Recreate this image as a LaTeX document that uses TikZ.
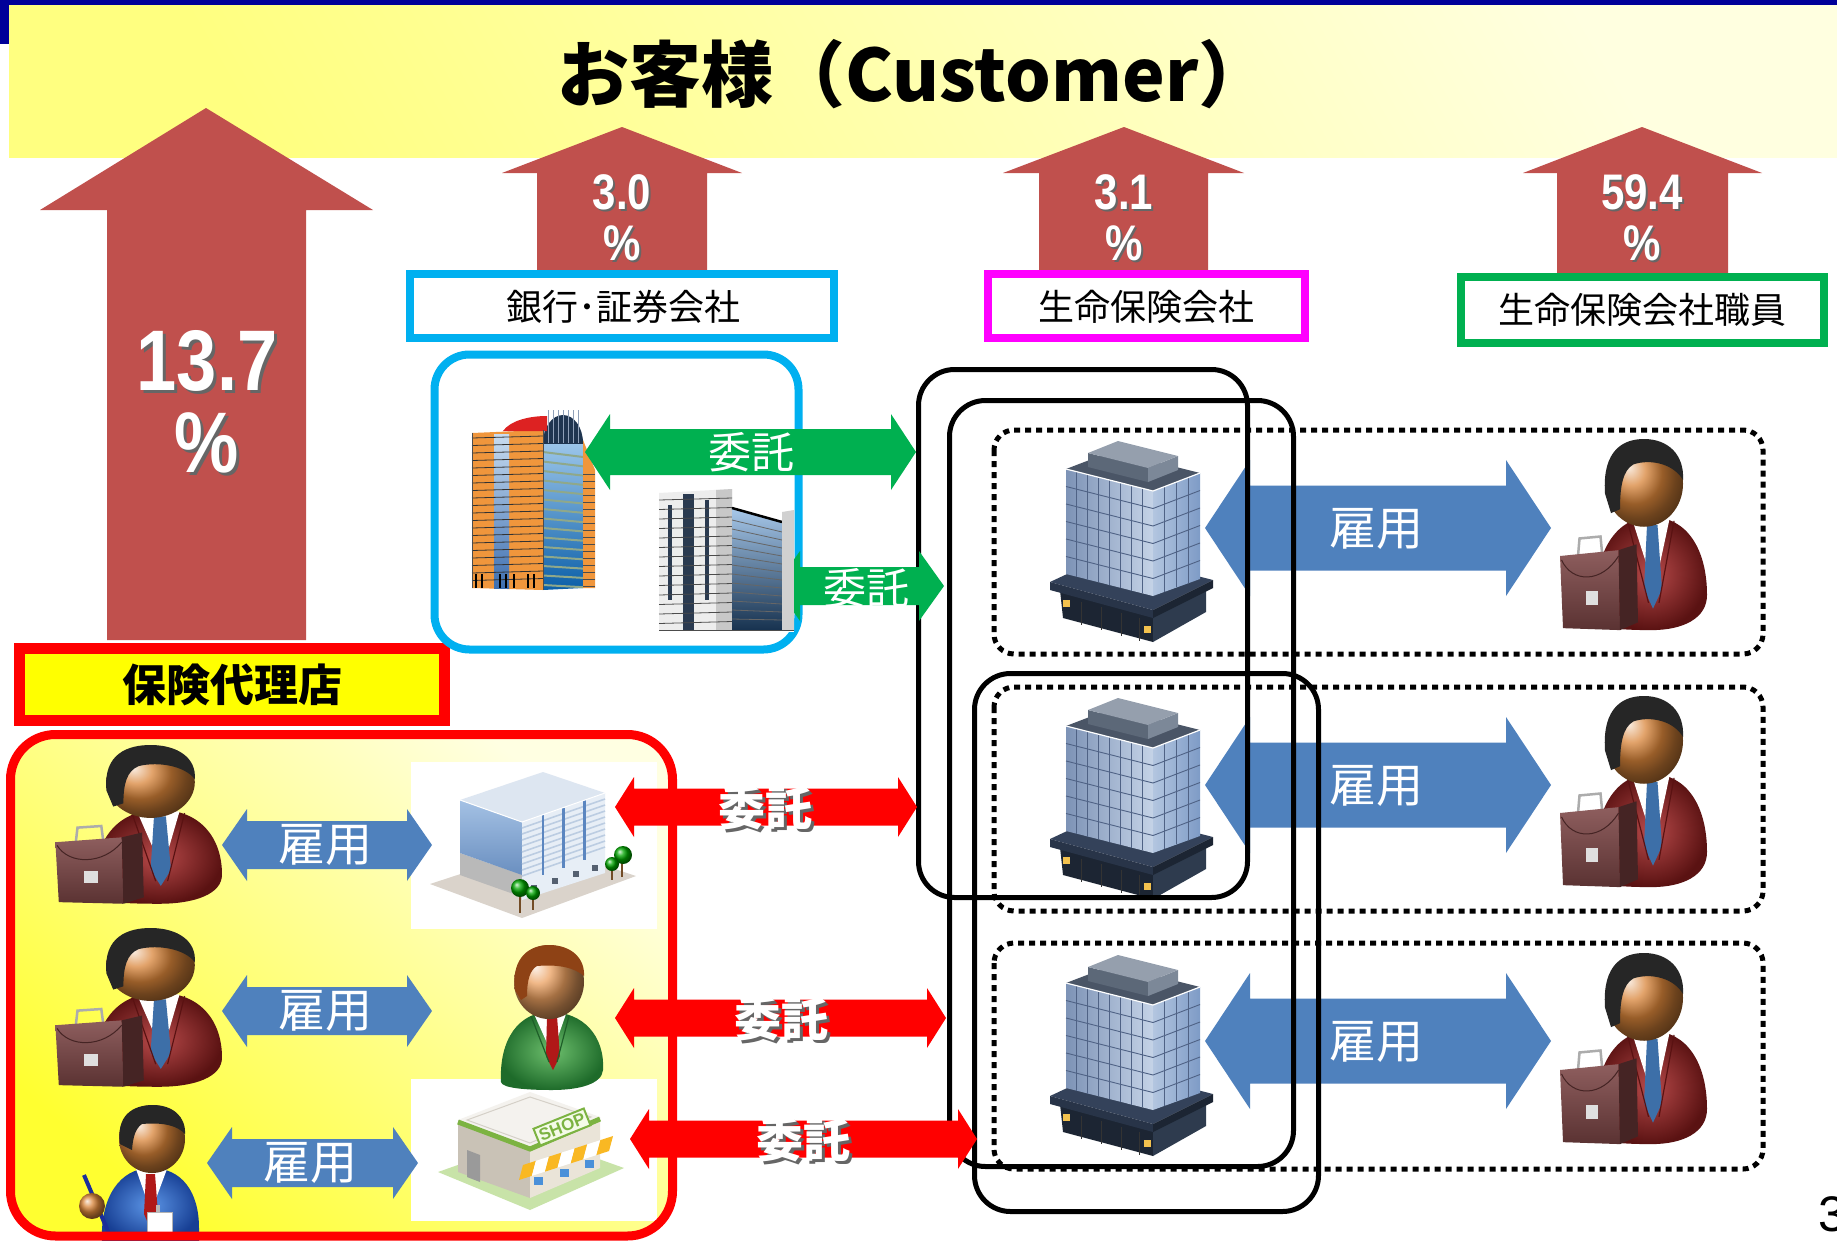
\documentclass[tikz,border=0pt]{standalone}
\usepackage{fontspec}
\setmainfont{Liberation Sans}
\newfontfamily\jp{Noto Sans CJK JP}
\newfontfamily\narrowsans{Liberation Sans}[FakeStretch=0.84]

\definecolor{navybar}{HTML}{000099}
\definecolor{bandstrong}{HTML}{FFFF80}
\definecolor{bandpale}{HTML}{FFFFE0}
\definecolor{pctred}{HTML}{C0504D}
\definecolor{lbcyan}{HTML}{00B0F0}
\definecolor{lbmag}{HTML}{FF00FF}
\definecolor{lbgreen}{HTML}{00B050}
\definecolor{agred}{HTML}{FF0000}
\definecolor{agyellow}{HTML}{FFFF00}
\definecolor{agstrong}{HTML}{FFFF30}
\definecolor{agpale}{HTML}{FFFFE2}
\definecolor{arrblue}{HTML}{4F81BD}
\definecolor{arrgreen}{HTML}{00B050}
% glass tower
\definecolor{twfrontA}{HTML}{7D93B6}
\definecolor{twfrontB}{HTML}{C5D3E7}
\definecolor{twsideA}{HTML}{B3C6E0}
\definecolor{twsideB}{HTML}{7E9BC6}
\definecolor{twtop}{HTML}{4A5566}
\definecolor{twroofA}{HTML}{5C6878}
\definecolor{twroofB}{HTML}{7C8898}
\definecolor{twroofC}{HTML}{959FAD}
\definecolor{twslab}{HTML}{34425A}
\definecolor{twbaseA}{HTML}{283448}
\definecolor{twbaseB}{HTML}{1C2533}
\definecolor{twbaseC}{HTML}{2E3B4E}
\definecolor{twgrid}{HTML}{4F6285}
\definecolor{lampyel}{HTML}{F2C14E}
% people
\definecolor{suitA}{HTML}{B84A4A}
\definecolor{suitB}{HTML}{5A1212}
\definecolor{tieblue}{HTML}{3D6FA8}
\definecolor{skin}{HTML}{D9853A}
\definecolor{skinlight}{HTML}{EBA060}
\definecolor{hairdark}{HTML}{262626}
\definecolor{hairred}{HTML}{8E4215}
\definecolor{caseA}{HTML}{8E5E5E}
\definecolor{caseB}{HTML}{5A3232}
\definecolor{caseC}{HTML}{452424}
\definecolor{gsuitA}{HTML}{6DBF6D}
\definecolor{gsuitB}{HTML}{1E6B2A}
\definecolor{gsuitC}{HTML}{1E5E28}
\definecolor{redtie}{HTML}{B01818}
\definecolor{bsuitA}{HTML}{5C95E6}
\definecolor{bsuitB}{HTML}{173F94}
\definecolor{penblue}{HTML}{1A2E9A}
% isometric buildings
\definecolor{plate}{HTML}{DAD3CB}
\definecolor{isoblueA}{HTML}{A4C1E4}
\definecolor{isoblueB}{HTML}{6A8FC0}
\definecolor{isoside}{HTML}{E7EEF6}
\definecolor{isostripe}{HTML}{BCCDE2}
\definecolor{isopost}{HTML}{5B86C0}
\definecolor{isotop}{HTML}{DDE6F1}
\definecolor{isowin}{HTML}{556070}
\definecolor{shopgreen}{HTML}{7CB342}
\definecolor{shopplate}{HTML}{C8E3A8}
\definecolor{shopwall}{HTML}{C9C2B6}
\definecolor{shopside}{HTML}{EAE4D8}
\definecolor{shoptop}{HTML}{F4F2EE}
\definecolor{shopedge}{HTML}{D5D0C8}
\definecolor{shopdoor}{HTML}{9A9A9A}
\definecolor{signfill}{HTML}{F4FBE8}
\definecolor{awning}{HTML}{F9B823}
\definecolor{shopwin}{HTML}{4A90D9}
% bank buildings
\definecolor{orangewall}{HTML}{F0963C}
\definecolor{glassA}{HTML}{A9CFF0}
\definecolor{glassB}{HTML}{0B5FA8}
\definecolor{glassband}{HTML}{8FA88A}
\definecolor{slitA}{HTML}{C8DCF0}
\definecolor{slitB}{HTML}{3E6FB0}
\definecolor{domeblue}{HTML}{1F3550}
\definecolor{domerib}{HTML}{8FA0B8}
\definecolor{roofred}{HTML}{DD2222}
\definecolor{concreteA}{HTML}{EDEDED}
\definecolor{concreteB}{HTML}{C8C8C8}
\definecolor{concreteC}{HTML}{D0D0D0}
\definecolor{winslot}{HTML}{2A3A50}
\definecolor{darkglassA}{HTML}{A7C8EA}
\definecolor{darkglassB}{HTML}{17324F}

% horizontal double-headed arrow: style, left tip x, right tip x, centre y,
% head length, head half-height, shaft half-height
\newcommand\twoheadbar[7]{%
  \fill[#1] (#2,#4) -- (#2+#5,#4-#6) -- (#2+#5,#4-#7) -- (#3-#5,#4-#7) -- (#3-#5,#4-#6)
    -- (#3,#4) -- (#3-#5,#4+#6) -- (#3-#5,#4+#7) -- (#2+#5,#4+#7) -- (#2+#5,#4+#6) -- cycle;}

\tikzset{
  pct/.style={text=white, font=\narrowsans\bfseries\fontsize{50}{54}\selectfont, inner sep=0},
  pctbig/.style={pct, font=\narrowsans\bfseries\fontsize{86}{90}\selectfont},
  txtshadow/.style={text=black!60},
  labelbox/.style={fill=white, line width=8},
  labeltext/.style={font=\jp\fontsize{36}{40}\selectfont, inner sep=0},
  koyou/.style={text=white, font=\jp\fontsize{47}{50}\selectfont, inner sep=0},
  itakug/.style={text=white, font=\jp\fontsize{43}{46}\selectfont, inner sep=0},
  itakur/.style={text=white, font=\jp\bfseries\fontsize{47}{50}\selectfont, inner sep=0},
  solidframe/.style={draw=black, line width=5, rounded corners=36},
  dotframe/.style={draw=black, line width=5, dash pattern=on 6pt off 5pt, rounded corners=20},
  % glass office tower, drawn in a 170 x 206 box
  tower/.pic={
    \fill[twbaseB] (17,154) -- (110,180) -- (110,206) -- (20,182) -- cycle;
    \fill[twbaseC] (110,180) -- (163,152) -- (163,176) -- (110,206) -- cycle;
    \foreach \u in {38,58,78,96}{\draw[black!80, line width=1] (\u,{160+(\u-17)*0.28}) -- (\u,{184+(\u-20)*0.27});}
    \fill[twslab] (7,146) -- (110,174) -- (170,144) -- (67,118) -- cycle;
    \fill[twbaseA] (7,146) -- (110,174) -- (110,182) -- (7,154) -- cycle;
    \fill[twbaseB] (110,174) -- (170,144) -- (170,152) -- (110,182) -- cycle;
    \fill[lampyel] (20,164) rectangle (27,171);
    \fill[lampyel] (101,190) rectangle (108,197);
    \shade[left color=twfrontA, right color=twfrontB] (23,33) -- (110,55) -- (110,160) -- (23,138) -- cycle;
    \shade[left color=twsideA, right color=twsideB] (110,55) -- (157,37) -- (157,143) -- (110,160) -- cycle;
    \foreach \k in {1,...,7}{\draw[twgrid, line width=0.9] ({23+\k*10.875},{33+\k*2.75}) -- ++(0,105);}
    \foreach \k in {1,...,5}{\draw[twgrid, line width=0.9] (23,{33+\k*17.5}) -- (110,{55+\k*17.5});}
    \foreach \k in {1,2,3}{\draw[twgrid, line width=0.9] ({110+\k*11.75},{55-\k*4.5}) -- ++(0,105);}
    \foreach \k in {1,...,5}{\draw[twgrid, line width=0.9] (110,{55+\k*17.5}) -- (157,{37+\k*17.5});}
    \fill[twtop] (23,33) -- (110,55) -- (157,37) -- (70,15) -- cycle;
    \draw[white, line width=1.2] (23,33) -- (110,55) -- (157,37);
    \fill[twroofA] (45,31) -- (105,46) -- (105,32) -- (45,17) -- cycle;
    \fill[twroofB] (105,46) -- (135,34) -- (135,20) -- (105,32) -- cycle;
    \fill[twroofC] (45,17) -- (105,32) -- (135,20) -- (75,5) -- cycle;
  },
  % businessman with briefcase, drawn in a 100 x 100 box
  bman/.pic={
    \shade[inner color=suitA, outer color=suitB] (24,92) .. controls (24,56) and (40,40) .. (63,40)
      .. controls (87,40) and (100,57) .. (100,80) .. controls (100,92) and (84,98) .. (63,98)
      .. controls (42,98) and (24,97) .. (24,92) -- cycle;
    \fill[white] (50,41) -- (75,41) -- (65,77) -- cycle;
    \fill[tieblue] (60,44) -- (67,44) -- (70,77) -- (64,87) -- (58,77) -- cycle;
    \draw[suitB, line width=1.2] (47,42) -- (61,84) (78,42) -- (68,84);
    \shade[ball color=skin] (58,23) ellipse [x radius=26, y radius=22];
    \fill[hairdark] (32,28) .. controls (30,5) and (45,0) .. (58,0) .. controls (74,0) and (85,8) .. (84,21)
      .. controls (78,13) and (63,10) .. (51,13) .. controls (44,16) and (42,24) .. (42,36) -- (36,38) -- cycle;
    \draw[gray!65, line width=2.5] (14,60) -- (15,51) -- (29,50) -- (30,58);
    \shade[top color=caseA, bottom color=caseB] (2,60) -- (41,57) -- (42,98) -- (4,97) -- cycle;
    \fill[caseC] (41,57) -- (53,54) -- (54,94) -- (42,98) -- cycle;
    \draw[caseC, line width=1] (3,62) .. controls (10,74) and (30,74) .. (41,60);
    \fill[gray!25] (19,78) rectangle (27,85);
  }
}

\begin{document}
\begin{tikzpicture}[x=1pt, y=-1pt]
\useasboundingbox (0,0) rectangle (1837,1240);
\fill[white] (0,0) rectangle (1837,1240);

% ---------- customer band ----------
\shade[top color=bandpale, bottom color=bandstrong, shading angle=-60] (9,5) rectangle (1837,157);
\fill[navybar] (0,0) rectangle (1837,5);
\fill[navybar] (0,0) rectangle (9,44);
\node (title) at (914,74) {\jp\bfseries\fontsize{72}{80}\selectfont お客様（Customer）};

% ---------- share arrows ----------
\fill[pctred] (206,108) -- (373,210) -- (306,210) -- (306,640) -- (107,640) -- (107,210) -- (40,210) -- cycle;
\fill[pctred] (622,127) -- (742,173) -- (707,173) -- (707,280) -- (537,280) -- (537,173) -- (502,173) -- cycle;
\fill[pctred] (1124,127) -- (1244,173) -- (1208,173) -- (1208,280) -- (1039,280) -- (1039,173) -- (1003,173) -- cycle;
\fill[pctred] (1642,127) -- (1762,173) -- (1728,173) -- (1728,280) -- (1557,280) -- (1557,173) -- (1523,173) -- cycle;

\node[pctbig, txtshadow] (p137s) at (210,364) {13.7};
\node[pctbig] (p137) at (207,361) {13.7};
\node[pctbig, txtshadow] (p137us) at (210,446) {\%};
\node[pctbig] (p137u) at (207,443) {\%};

\node[pct, txtshadow] (p30s) at (624,194) {3.0};
\node[pct] (p30) at (622,192) {3.0};
\node[pct, txtshadow] (p30us) at (624,245) {\%};
\node[pct] (p30u) at (622,243) {\%};

\node[pct, txtshadow] (p31s) at (1126,194) {3.1};
\node[pct] (p31) at (1124,192) {3.1};
\node[pct, txtshadow] (p31us) at (1126,245) {\%};
\node[pct] (p31u) at (1124,243) {\%};

\node[pct, txtshadow] (p594s) at (1644,194) {59.4};
\node[pct] (p594) at (1642,192) {59.4};
\node[pct, txtshadow] (p594us) at (1644,245) {\%};
\node[pct] (p594u) at (1642,243) {\%};

% ---------- channel labels ----------
\draw[labelbox, draw=lbcyan] (410,273.5) rectangle (834,338);
\node[labeltext] (bank) at (623,307) {銀行･証券会社};
\draw[labelbox, draw=lbmag] (988,273.5) rectangle (1305,338);
\node[labeltext] (lifeco) at (1146,307) {生命保険会社};
\draw[labelbox, draw=lbgreen] (1461,277) rectangle (1824,343);
\node[labeltext] (staff) at (1642,310) {生命保険会社職員};

\draw[fill=agyellow, draw=agred, line width=11] (19.5,648.5) rectangle (444.5,720.5);
\node[font=\jp\bfseries\fontsize{44}{48}\selectfont, inner sep=0] (agency) at (232,685) {保険代理店};

% ---------- agency area ----------
\shade[top color=agpale, bottom color=agstrong, shading angle=-40, rounded corners=45] (10.5,734.5) rectangle (672.5,1236);

% ---------- bank / securities area ----------
\draw[lbcyan, line width=8, rounded corners=35] (434.5,354.5) rectangle (798.5,649.5);

% ---------- life insurer rows ----------
\draw[dotframe] (994,430) rectangle (1763,654);
\draw[dotframe] (994,687) rectangle (1763,911);
\draw[dotframe] (994,943) rectangle (1763,1169);

\twoheadbar{arrblue}{1205}{1551}{528}{45}{68}{42.5}
\node[koyou] (emp1) at (1376,529) {雇用};
\twoheadbar{arrblue}{1205}{1551}{785}{45}{68}{42.5}
\node[koyou] (emp2) at (1376,786) {雇用};
\twoheadbar{arrblue}{1205}{1551}{1041}{45}{68}{42.5}
\node[koyou] (emp3) at (1376,1042) {雇用};

\pic (towerA) at (1043,436) {tower};
\pic (towerB) at (1043,693) {tower};
\pic (towerC) at (1043,950) {tower};

\pic[xscale=1.5, yscale=1.95] (staffA) at (1557,439) {bman};
\pic[xscale=1.5, yscale=1.95] (staffB) at (1557,696) {bman};
\pic[xscale=1.5, yscale=1.95] (staffC) at (1557,953) {bman};

\draw[solidframe] (918.5,369.5) rectangle (1247.5,897.5);
\draw[solidframe] (949.5,400.5) rectangle (1293.5,1166.5);
\draw[solidframe] (974.5,673.5) rectangle (1318.5,1211.5);

% ---------- bank buildings ----------
% orange tower
\shade[top color=glassA, bottom color=glassB] (543,430) -- (583,440) -- (583,588) -- (543,590) -- cycle;
\foreach \k in {0,...,14}{\draw[glassband, line width=2] (543,{452+\k*9.5}) -- (583,{457+\k*9.3});}
\fill[orangewall] (583,440) -- (595,470) -- (595,588) -- (583,588) -- cycle;
\fill[orangewall] (472,433) -- (543,430) -- (543,590) -- (472,588) -- cycle;
\shade[top color=slitA, bottom color=slitB] (494,434) rectangle (509,588);
\foreach \k in {0,...,19}{\draw[black!80, line width=0.8] (472,{438+\k*7.5}) -- (543,{436+\k*7.5});}
\foreach \k in {0,...,16}{\draw[black!70, line width=0.7] (583,{474+\k*7}) -- (595,{474+\k*7});}
\begin{scope}
  \clip (540,410) rectangle (590,443);
  \fill[domeblue] (563,443) ellipse [x radius=20, y radius=28];
  \foreach \u in {548,553,558,563,568,573,578}{\draw[domerib, line width=0.8] (\u,410) -- (\u,443);}
\end{scope}
\fill[roofred] (503,431) .. controls (510,421) and (528,416) .. (547,416) -- (547,431) -- cycle;
\foreach \u in {476,482,500,506,514,528,534}{\draw[black, line width=1.5] (\u,574) -- (\u,588);}
\draw[black!70, line width=1] (543,430) -- (543,590) (472,433) -- (472,588);

% grey office block
\fill[white] (655,486) rectangle (794,632);
\fill[concreteA] (659,493) -- (732,489) -- (732,630) -- (659,630) -- cycle;
\fill[concreteB] (716,490) -- (732,489) -- (732,630) -- (716,630) -- cycle;
\fill[winslot] (668,505) rectangle (672,600);
\fill[winslot] (683,494) rectangle (694,630);
\fill[winslot] (705,500) rectangle (709,600);
\foreach \k in {0,...,13}{\draw[black!70, line width=0.8] (659,{500+\k*9.5}) -- (732,{498+\k*9.5});}
\shade[top color=darkglassA, bottom color=darkglassB] (732,508) -- (782,522) -- (782,630) -- (732,630) -- cycle;
\foreach \k in {0,...,11}{\draw[black!60, line width=0.8] (732,{520+\k*9}) -- (782,{532+\k*8});}
\draw[black, line width=2.5] (732,508) -- (782,522);
\fill[concreteC] (782,512) -- (794,510) -- (794,630) -- (782,630) -- cycle;
\draw[black!70, line width=0.8] (659,630) -- (794,630);

% ---------- entrustment (green) ----------
\twoheadbar{arrgreen}{585}{916}{452}{25}{38}{23}
\node[itakug] (trust1) at (751,452) {委託};
\begin{scope}
  \clip (794,540) rectangle (960,640);
  \twoheadbar{arrgreen}{775}{944}{586}{25}{35}{19}
\end{scope}
\node[itakug] (trust2) at (866,588) {委託};

% ---------- agency contents ----------
% office building with trees
\fill[white] (411,762) rectangle (657,929);
\fill[plate] (430,884) -- (522,918) -- (636,876) -- (546,846) -- cycle;
\fill[gray!55] (460,853) -- (522,875) -- (522,897) -- (460,875) -- cycle;
\shade[top color=isoblueA, bottom color=isoblueB] (460,800) -- (522,822) -- (522,875) -- (460,853) -- cycle;
\fill[isoside] (522,822) -- (605,793) -- (605,873) -- (522,900) -- cycle;
\foreach \k in {1,...,9}{\draw[isostripe, line width=1.6] (522,{822+\k*6}) -- (605,{793+\k*6});}
\foreach \t in {0.25,0.5,0.75}{\draw[isopost, line width=2.5] ({522+\t*83},{822-\t*29}) -- ++(0,60);}
\foreach \t in {0.15,0.4,0.65,0.88}{\fill[isowin] ({522+\t*83-3},{893-\t*27-4}) rectangle ++(6,6);}
\fill[isotop] (460,800) -- (522,822) -- (605,793) -- (543,772) -- cycle;
\draw[white, line width=1] (460,800) -- (522,822) -- (605,793);
\draw[brown!60!black, line width=1.6] (520,893) -- (520,913) (533,896) -- (533,910) (622,860) -- (622,877) (612,867) -- (612,880);
\shade[ball color=green!65!black] (520,888) circle (9);
\shade[ball color=green!65!black] (533,893) circle (7);
\shade[ball color=green!65!black] (623,855) circle (9);
\shade[ball color=green!65!black] (612,864) circle (7);

% shop
\fill[white] (411,1079) rectangle (657,1221);
\fill[shopplate] (438,1172) -- (530,1210) -- (624,1168) -- (537,1137) -- cycle;
\fill[shopwall] (458,1120) -- (530,1147) -- (530,1198) -- (458,1172) -- cycle;
\fill[shopdoor] (467,1150) -- (480,1155) -- (480,1182) -- (467,1177) -- cycle;
\fill[shopside] (530,1147) -- (600,1117) -- (600,1168) -- (530,1198) -- cycle;
\fill[shoptop] (458,1120) -- (530,1147) -- (600,1117) -- (530,1092) -- cycle;
\draw[shopedge, line width=1] (467,1120) -- (530,1143) -- (591,1117) -- (530,1097) -- cycle;
\draw[shopgreen, line width=5] (458,1122) -- (530,1149) -- (600,1119);
\foreach \k in {0,2,4,6}{\fill[awning] ({523+\k*12.86},{1165-\k*4.14}) -- ({523+(\k+1)*12.86},{1165-(\k+1)*4.14}) -- ({519+(\k+1)*12.86},{1180-(\k+1)*4.14}) -- ({519+\k*12.86},{1180-\k*4.14}) -- cycle;}
\foreach \k in {1,3,5}{\fill[white] ({523+\k*12.86},{1165-\k*4.14}) -- ({523+(\k+1)*12.86},{1165-(\k+1)*4.14}) -- ({519+(\k+1)*12.86},{1180-(\k+1)*4.14}) -- ({519+\k*12.86},{1180-\k*4.14}) -- cycle;}
\foreach \k in {1,3,5}{\fill[shopwin] ({521+\k*12.86},{1181-\k*4.14}) rectangle ++(9,8);}
\node[draw=shopgreen, fill=signfill, line width=2, rotate=22, text=shopgreen, font=\bfseries\fontsize{17}{18}\selectfont, inner sep=3] (shopsign) at (562,1127) {SHOP};

% sales agent in green suit
\begin{scope}[shift={(497,944)}]
  \shade[inner color=gsuitA, outer color=gsuitB] (4,138) .. controls (2,95) and (22,68) .. (53,68)
    .. controls (86,68) and (108,92) .. (106,126) .. controls (105,140) and (82,146) .. (55,146)
    .. controls (28,146) and (5,144) .. (4,138) -- cycle;
  \fill[white] (37,70) -- (69,70) -- (55,110) -- cycle;
  \fill[redtie] (50,72) -- (60,72) -- (63,112) -- (56,126) -- (49,112) -- cycle;
  \draw[gsuitC, line width=1.2] (34,72) -- (52,118) (72,72) -- (60,118);
  \shade[ball color=skinlight] (52,38) ellipse [x radius=35, y radius=37];
  \fill[hairred] (18,46) .. controls (14,12) and (34,1) .. (52,1) .. controls (74,1) and (88,14) .. (87,32)
    .. controls (78,24) and (62,20) .. (40,22) .. controls (33,26) and (30,36) .. (30,52) -- (24,56) -- cycle;
\end{scope}

% employees of the agency
\pic[xscale=1.7, yscale=1.62] (agentA) at (52,745) {bman};
\pic[xscale=1.7, yscale=1.62] (agentB) at (52,928) {bman};

% clerk in blue with pen
\shade[inner color=bsuitA, outer color=bsuitB] (102,1242) .. controls (100,1197) and (120,1168) .. (151,1168)
  .. controls (182,1168) and (199,1192) .. (199,1228) -- (199,1242) -- cycle;
\fill[white] (136,1169) -- (167,1169) -- (151,1212) -- cycle;
\fill[redtie] (146,1174) -- (155,1174) -- (158,1214) -- (151,1230) -- (144,1214) -- cycle;
\fill[white, draw=gray!60] (147,1212) rectangle (172,1232);
\fill[gray!55] (156,1205) rectangle (160,1213);
\shade[ball color=skin] (152,1139) ellipse [x radius=33, y radius=34];
\fill[hairdark] (120,1144) .. controls (116,1116) and (132,1105) .. (153,1105) .. controls (172,1105) and (186,1116) .. (185,1134)
  .. controls (178,1126) and (164,1122) .. (142,1124) .. controls (136,1128) and (133,1136) .. (132,1150) -- cycle;
\draw[penblue, line width=4] (84,1175) -- (110,1236);
\shade[ball color=skin] (92,1206) circle (13);

% employment arrows inside the agency
\twoheadbar{arrblue}{222}{432}{845}{25}{36}{24}
\node[koyou] (aemp1) at (325,845) {雇用};
\twoheadbar{arrblue}{222}{432}{1011}{25}{36}{24}
\node[koyou] (aemp2) at (325,1011) {雇用};
\twoheadbar{arrblue}{207}{418}{1163}{25}{36}{24}
\node[koyou] (aemp3) at (310,1163) {雇用};

% agency frame
\draw[agred, line width=9, rounded corners=45] (10.5,734.5) rectangle (672.5,1236);

% ---------- entrustment (red) ----------
\twoheadbar{agred}{615}{917}{807}{19}{30}{18.5}
\node[itakur, txtshadow] (rtrust1s) at (768,811) {委託};
\node[itakur] (rtrust1) at (765,808) {委託};
\twoheadbar{agred}{615}{946}{1018}{19}{30}{18.5}
\node[itakur, txtshadow] (rtrust2s) at (784,1022) {委託};
\node[itakur] (rtrust2) at (781,1019) {委託};
\twoheadbar{agred}{630}{977}{1139}{19}{30}{18.5}
\node[itakur, txtshadow] (rtrust3s) at (806,1143) {委託};
\node[itakur] (rtrust3) at (803,1140) {委託};

% page number
\node[anchor=west, inner sep=0, font=\fontsize{50}{54}\selectfont] (pageno) at (1818,1214) {3};
\end{tikzpicture}
\end{document}
